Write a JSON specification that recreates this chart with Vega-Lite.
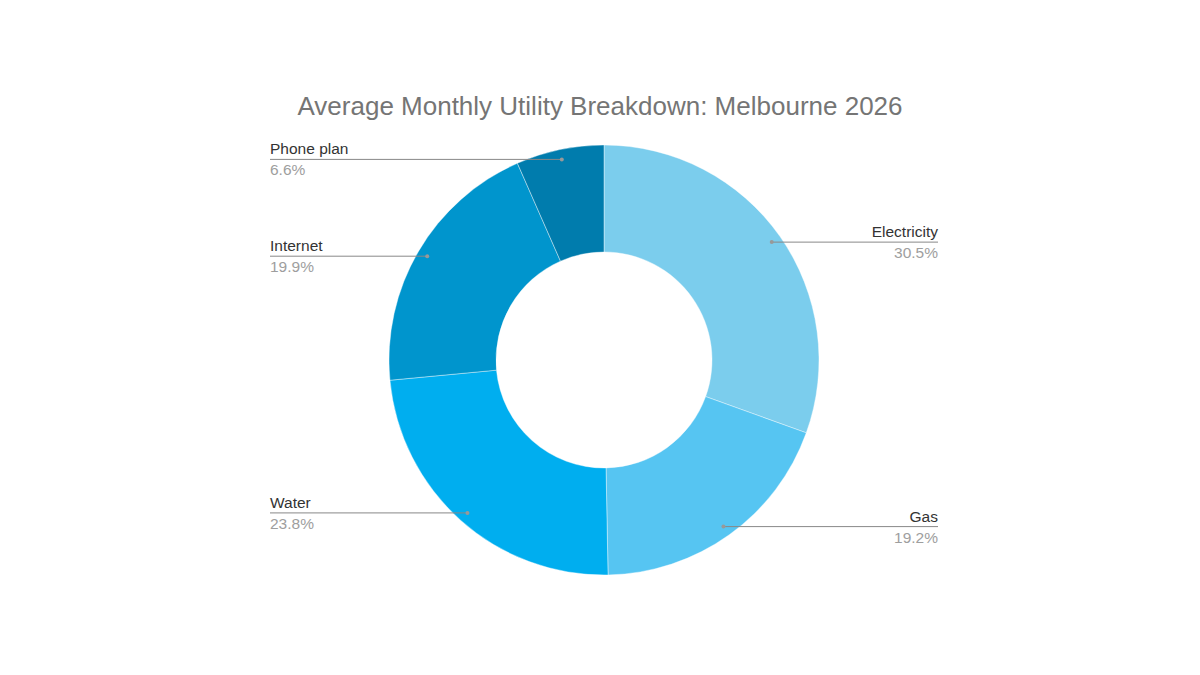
{
  "$schema": "https://vega.github.io/schema/vega-lite/v6.json",
  "width": 1200,
  "height": 675,
  "autosize": {"type": "fit", "contains": "padding"},
  "padding": 0,
  "background": "white",
  "title": {"text": "Average Monthly Utility Breakdown: Melbourne 2026", "fontSize": 26, "font": "Liberation Sans", "fontWeight": "normal", "color": "#757575", "anchor": "middle", "orient": "top", "offset": -141, "baseline": "alphabetic"},
  "config": {"view": {"stroke": null}},
  "data": {"values": [
    {"category": "Electricity", "value": 30.5},
    {"category": "Gas", "value": 19.2},
    {"category": "Water", "value": 23.8},
    {"category": "Internet", "value": 19.9},
    {"category": "Phone plan", "value": 6.6}
  ]},
  "transform": [
    {"window": [{"op": "row_number", "as": "idx"}]},
    {"window": [{"op": "sum", "field": "value", "as": "cum"}], "frame": [null, 0]},
    {"joinaggregate": [{"op": "sum", "field": "value", "as": "total"}]},
    {"calculate": "2*PI*(datum.cum - datum.value/2)/datum.total", "as": "mid"},
    {"calculate": "604 + 205*sin(datum.mid)", "as": "ax"},
    {"calculate": "360 - 205*cos(datum.mid)", "as": "ay"},
    {"calculate": "sin(datum.mid) > 0 ? 938 : 270", "as": "lx"},
    {"calculate": "sin(datum.mid) > 0 ? 'right' : 'left'", "as": "side"},
    {"calculate": "format(datum.value, '.1f') + '%'", "as": "pct"}
  ],
  "layer": [
    {
      "mark": {"type": "arc", "outerRadius": 215, "innerRadius": 108, "stroke": "white", "strokeWidth": 0.4},
      "encoding": {
        "theta": {"field": "value", "type": "quantitative", "stack": true},
        "order": {"field": "idx", "type": "quantitative"},
        "color": {"field": "category", "type": "nominal", "legend": null,
          "scale": {"domain": ["Electricity", "Gas", "Water", "Internet", "Phone plan"], "range": ["#7BCDED", "#56C5F2", "#00AEEF", "#0095CD", "#007CAD"]}},
        "x": {"datum": 604, "type": "quantitative", "scale": {"domain": [0, 1200], "nice": false, "zero": false}, "axis": null},
        "y": {"datum": 360, "type": "quantitative", "scale": {"domain": [0, 675], "nice": false, "zero": false, "reverse": true}, "axis": null}
      }
    },
    {
      "mark": {"type": "rule", "color": "#888888", "strokeWidth": 1},
      "encoding": {
        "x": {"field": "lx", "type": "quantitative", "scale": {"domain": [0, 1200], "nice": false, "zero": false}, "axis": null},
        "x2": {"field": "ax"},
        "y": {"field": "ay", "type": "quantitative", "scale": {"domain": [0, 675], "nice": false, "zero": false, "reverse": true}, "axis": null}
      }
    },
    {
      "mark": {"type": "point", "filled": true, "color": "#999999", "size": 16, "opacity": 1},
      "encoding": {
        "x": {"field": "ax", "type": "quantitative", "axis": null},
        "y": {"field": "ay", "type": "quantitative", "axis": null}
      }
    },
    {
      "transform": [{"filter": "datum.side == 'left'"}],
      "mark": {"type": "text", "align": "left", "baseline": "alphabetic", "dy": -5, "font": "Liberation Sans", "fontSize": 15.5, "color": "#333333"},
      "encoding": {
        "x": {"field": "lx", "type": "quantitative", "axis": null},
        "y": {"field": "ay", "type": "quantitative", "axis": null},
        "text": {"field": "category"}
      }
    },
    {
      "transform": [{"filter": "datum.side == 'right'"}],
      "mark": {"type": "text", "align": "right", "baseline": "alphabetic", "dy": -5, "font": "Liberation Sans", "fontSize": 15.5, "color": "#333333"},
      "encoding": {
        "x": {"field": "lx", "type": "quantitative", "axis": null},
        "y": {"field": "ay", "type": "quantitative", "axis": null},
        "text": {"field": "category"}
      }
    },
    {
      "transform": [{"filter": "datum.side == 'left'"}],
      "mark": {"type": "text", "align": "left", "baseline": "top", "dy": 4, "font": "Liberation Sans", "fontSize": 15.5, "color": "#9E9E9E"},
      "encoding": {
        "x": {"field": "lx", "type": "quantitative", "axis": null},
        "y": {"field": "ay", "type": "quantitative", "axis": null},
        "text": {"field": "pct"}
      }
    },
    {
      "transform": [{"filter": "datum.side == 'right'"}],
      "mark": {"type": "text", "align": "right", "baseline": "top", "dy": 4, "font": "Liberation Sans", "fontSize": 15.5, "color": "#9E9E9E"},
      "encoding": {
        "x": {"field": "lx", "type": "quantitative", "axis": null},
        "y": {"field": "ay", "type": "quantitative", "axis": null},
        "text": {"field": "pct"}
      }
    }
  ]
}
